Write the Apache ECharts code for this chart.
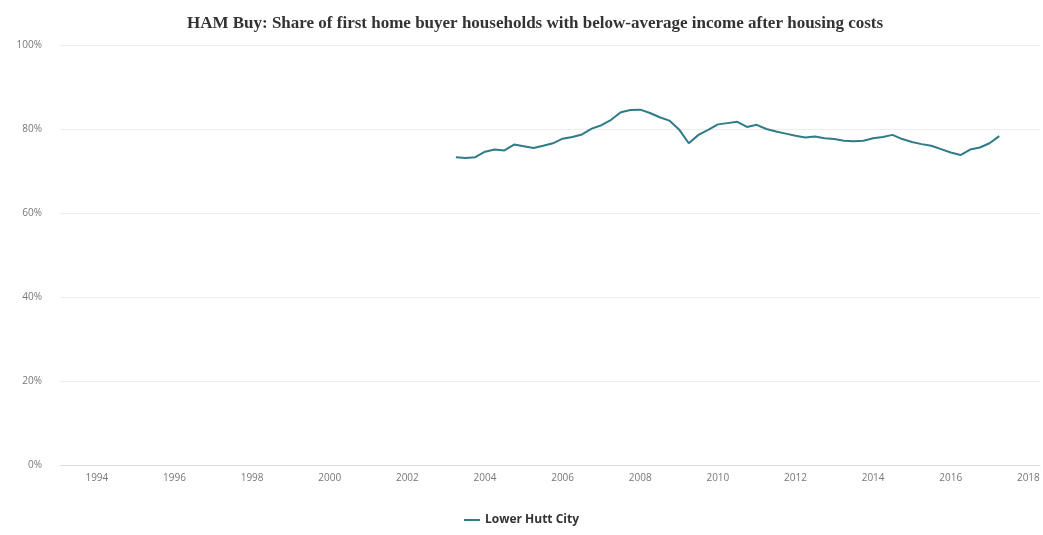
<!DOCTYPE html>
<html>
<head>
<meta charset="utf-8">
<script src="https://cdn.jsdelivr.net/npm/echarts@6/dist/echarts.min.js"></script>
<style>
html,body{margin:0;padding:0;background:#fff;}
#chart{width:1043px;height:535px;}
</style>
</head>
<body>
<div id="chart"></div>
<script>
const titleText = "HAM Buy: Share of first home buyer households with below-average income after housing costs";
const seriesName = "Lower Hutt City";
const xTickYears = [1994,1996,1998,2000,2002,2004,2006,2008,2010,2012,2014,2016,2018];
const yTicks = [0,20,40,60,80,100];
const quarters = [
  2003.25,2003.5,2003.75,2004.0,2004.25,2004.5,2004.75,2005.0,2005.25,2005.5,2005.75,
  2006.0,2006.25,2006.5,2006.75,2007.0,2007.25,2007.5,2007.75,2008.0,2008.25,2008.5,2008.75,
  2009.0,2009.25,2009.5,2009.75,2010.0,2010.25,2010.5,2010.75,2011.0,2011.25,2011.5,2011.75,
  2012.0,2012.25,2012.5,2012.75,2013.0,2013.25,2013.5,2013.75,2014.0,2014.25,2014.5,2014.75,
  2015.0,2015.25,2015.5,2015.75,2016.0,2016.25,2016.5,2016.75,2017.0,2017.25
];
const values = [
  73.3,73.1,73.3,74.6,75.1,74.9,76.3,75.9,75.5,76.0,76.6,
  77.7,78.1,78.7,80.1,80.9,82.2,84.0,84.5,84.6,83.8,82.8,82.0,
  79.9,76.6,78.6,79.8,81.1,81.4,81.7,80.5,81.0,80.0,79.4,78.9,
  78.4,78.0,78.2,77.8,77.6,77.2,77.1,77.2,77.8,78.1,78.6,77.6,
  76.9,76.4,76.0,75.2,74.4,73.8,75.1,75.6,76.6,78.3
];

const data = quarters.map((q, i) => [q, values[i]]);

const chart = echarts.init(document.getElementById('chart'), null, {renderer: 'canvas'});
chart.setOption({
  animation: false,
  backgroundColor: '#ffffff',
  title: {
    text: titleText,
    left: 530,
    textAlign: 'center',
    top: 10,
    textStyle: {
      fontFamily: 'Liberation Serif',
      fontWeight: 'bold',
      fontSize: 17,
      color: '#333333'
    }
  },
  legend: {
    bottom: 4,
    left: 'center',
    data: [seriesName],
    icon: 'path://M0,0 L16,0 L16,2 L0,2 Z',
    itemWidth: 16,
    itemHeight: 2,
    itemGap: 6,
    textStyle: {
      fontFamily: 'Open Sans',
      fontSize: 12,
      fontWeight: 'bold',
      color: '#333333'
    }
  },
  grid: {
    left: 60,
    right: 3,
    top: 45,
    bottom: 70,
    containLabel: false
  },
  xAxis: {
    type: 'value',
    min: 1993.05,
    max: 2018.3,
    splitLine: {show: false},
    axisLine: {show: true, lineStyle: {color: '#dcdcdc', width: 1}},
    axisTick: {show: false},
    axisLabel: {
      customValues: xTickYears,
      margin: 8,
      fontFamily: 'Open Sans',
      fontSize: 10,
      color: '#777777',
      formatter: v => String(Math.round(v))
    }
  },
  yAxis: {
    type: 'value',
    min: 0,
    max: 100,
    interval: 20,
    axisLine: {show: false},
    axisTick: {show: false},
    splitLine: {lineStyle: {color: '#ececec', width: 1}},
    axisLabel: {
      margin: 18,
      fontFamily: 'Open Sans',
      fontSize: 10,
      color: '#777777',
      formatter: v => v + '%'
    }
  },
  series: [{
    name: seriesName,
    type: 'line',
    data: data,
    showSymbol: false,
    symbol: 'none',
    color: '#2e7c87',
    lineStyle: {width: 2, color: '#2e7c87'}
  }]
});
</script>
</body>
</html>
